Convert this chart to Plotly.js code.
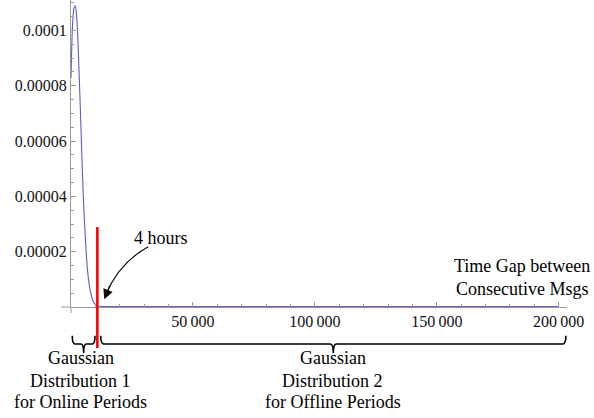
<!DOCTYPE html>
<html>
<head>
<meta charset="utf-8">
<script src="https://cdn.plot.ly/plotly-3.0.1.min.js"></script>
<style>html,body{margin:0;padding:0;background:#fff;}#chart{width:594px;height:418px;}</style>
</head>
<body>
<div id="chart"></div>
<script>
// ---- data ----
const timeGap = [0, 328, 738, 1230, 1763, 2255, 2747, 3280, 3813, 4305, 4797, 5330, 5945, 6560, 7257, 8077, 9020, 10250, 11890, 20000, 50000, 100000, 150000, 200000];
const density = [8.28e-5, 9.47e-5, 1.038e-4, 1.081e-4, 1.089e-4, 1.059e-4, 9.83e-5, 8.57e-5, 7.20e-5, 5.86e-5, 4.59e-5, 3.43e-5, 2.42e-5, 1.55e-5, 9.4e-6, 5.1e-6, 2.2e-6, 7e-7, 2.5e-7, 2e-7, 2e-7, 2e-7, 2e-7, 2e-7];

const xTickVals = [50000, 100000, 150000, 200000];
const xTickText = ['50\u2009000', '100\u2009000', '150\u2009000', '200\u2009000'];
const yTickVals = [2e-5, 4e-5, 6e-5, 8e-5, 1e-4];
const yTickText = ['0.00002', '0.00004', '0.00006', '0.00008', '0.0001'];

const fourHoursX = [10800];       // red marker line position
const fourHoursTop = [2.89e-5];   // red marker line top value
const brace1 = [530, 9840];       // Gaussian 1 span
const brace2 = [12180, 202950];   // Gaussian 2 span

const axisColor = '#999999';
const serif = 'Liberation Serif';

// ---- helpers for decorative shapes ----
function bracePath(x0, x1, r, yTop, yLine, yTip) {
  const xc = (x0 + x1) / 2;
  return 'M' + x0 + ',' + yTop +
    ' Q' + x0 + ',' + yLine + ' ' + (x0 + r) + ',' + yLine +
    ' L' + (xc - r) + ',' + yLine +
    ' Q' + xc + ',' + yLine + ' ' + xc + ',' + yTip +
    ' Q' + xc + ',' + yLine + ' ' + (xc + r) + ',' + yLine +
    ' L' + (x1 - r) + ',' + yLine +
    ' Q' + x1 + ',' + yLine + ' ' + x1 + ',' + yTop;
}

const trace = {
  x: timeGap, y: density, type: 'scatter', mode: 'lines',
  line: {color: 'rgb(94,94,200)', width: 1.1, shape: 'spline', smoothing: 0.8},
  hoverinfo: 'skip'
};

const shapes = [
  // axis extensions (Mathematica style crossing axes)
  {type: 'line', xref: 'paper', yref: 'paper', x0: -0.0202, x1: 0, y0: 0, y1: 0, line: {color: axisColor, width: 1}},
  {type: 'line', xref: 'paper', yref: 'paper', x0: 0, x1: 0, y0: 0, y1: -0.0195, line: {color: axisColor, width: 1}},
  // red 4-hour line
  {type: 'line', xref: 'x', yref: 'y', x0: fourHoursX[0], x1: fourHoursX[0], y0: 0, y1: fourHoursTop[0], line: {color: '#ff0000', width: 2.6}},
  {type: 'line', xref: 'x', yref: 'paper', x0: fourHoursX[0], x1: fourHoursX[0], y0: 0, y1: -0.1336, line: {color: '#ff0000', width: 2.6}},
  // curved arrow shaft
  {type: 'path', xref: 'x', yref: 'paper', path: 'M31690,0.1964 Q19640,0.1436 14300,0.040', line: {color: '#000', width: 1.1}},
  // braces
  {type: 'path', xref: 'x', yref: 'paper', path: bracePath(brace1[0], brace1[1], 1100, -0.094, -0.1205, -0.150), line: {color: '#000', width: 1.6}},
  {type: 'path', xref: 'x', yref: 'paper', path: bracePath(brace2[0], brace2[1], 1300, -0.094, -0.1205, -0.150), line: {color: '#000', width: 1.6}}
];

const annFont = {family: serif, size: 18, color: '#000'};
function textAnn(text, x, xref, y, yref) {
  return {text: text, x: x, xref: xref, y: y, yref: yref, showarrow: false, font: annFont, xanchor: 'center', yanchor: 'middle'};
}
const annotations = [
  textAnn('4 hours', 36900, 'x', 2.49e-5, 'y'),
  textAnn('Time Gap between<br>Consecutive Msgs', 184900, 'x', 1.06e-5, 'y'),
  textAnn('Gaussian', 3900, 'x', -0.166, 'paper'),
  textAnn('Distribution 1', 3900, 'x', -0.241, 'paper'),
  textAnn('for Online Periods', 3900, 'x', -0.309, 'paper'),
  textAnn('Gaussian', 107400, 'x', -0.166, 'paper'),
  textAnn('Distribution 2', 107400, 'x', -0.241, 'paper'),
  textAnn('for Offline Periods', 107400, 'x', -0.309, 'paper'),
  // arrow head
  {text: '', x: 13650, xref: 'x', y: 0.0251, yref: 'paper', showarrow: true, arrowhead: 2, arrowsize: 1.8, arrowwidth: 1.1, arrowcolor: '#000', ax: 6, ay: -15, standoff: 0}
];

const tickFont = {family: serif, size: 16, color: '#111'};

const layout = {
  width: 594, height: 418,
  margin: {l: 71, r: 27, t: 0, b: 111, pad: 0},
  paper_bgcolor: '#fff', plot_bgcolor: '#fff',
  showlegend: false,
  font: {family: serif, size: 16, color: '#111'},
  xaxis: {
    range: [0, 203400], showgrid: false, zeroline: false,
    showline: true, linecolor: axisColor, linewidth: 1,
    ticks: 'inside', ticklen: 5, tickwidth: 1, tickcolor: axisColor,
    tickmode: 'array', tickvals: xTickVals, ticktext: xTickText,
    tickfont: tickFont,
    minor: {tickmode: 'linear', tick0: 0, dtick: 10000, ticks: 'inside', ticklen: 3, tickcolor: axisColor, showgrid: false},
    fixedrange: true
  },
  yaxis: {
    range: [0, 1.11e-4], showgrid: false, zeroline: false,
    showline: true, linecolor: axisColor, linewidth: 1,
    ticks: 'inside', ticklen: 5, tickwidth: 1, tickcolor: axisColor,
    tickmode: 'array', tickvals: yTickVals, ticktext: yTickText,
    tickfont: tickFont,
    minor: {tickmode: 'linear', tick0: 0, dtick: 5e-6, ticks: 'inside', ticklen: 3, tickcolor: axisColor, showgrid: false},
    fixedrange: true
  },
  shapes: shapes,
  annotations: annotations
};

Plotly.newPlot('chart', [trace], layout, {staticPlot: true, displayModeBar: false});
</script>
</body>
</html>
